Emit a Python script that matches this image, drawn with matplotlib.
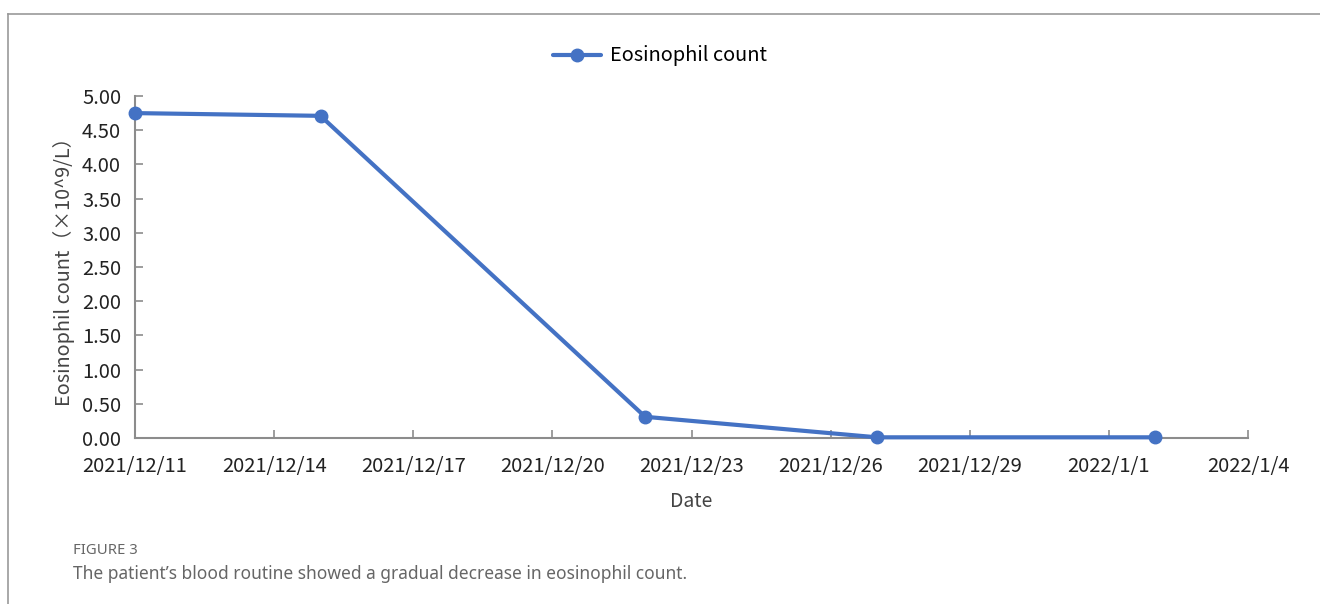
import matplotlib
matplotlib.use("Agg")
import matplotlib.pyplot as plt
from matplotlib.lines import Line2D
import numpy as np
from datetime import datetime

plt.rcParams['font.family'] = ['Noto Sans CJK SC', 'DejaVu Sans']

# Daten
dates = ["2021-12-11", "2021-12-15", "2021-12-22", "2021-12-27", "2022-01-02"]
eos_count = [4.75, 4.71, 0.31, 0.01, 0.01]
tick_dates = ["2021-12-11", "2021-12-14", "2021-12-17", "2021-12-20", "2021-12-23",
              "2021-12-26", "2021-12-29", "2022-01-01", "2022-01-04"]
tick_labels = ["2021/12/11", "2021/12/14", "2021/12/17", "2021/12/20", "2021/12/23",
               "2021/12/26", "2021/12/29", "2022/1/1", "2022/1/4"]
y_ticks = np.arange(0, 5.01, 0.5)

x = [datetime.strptime(d, "%Y-%m-%d") for d in dates]
xt = [datetime.strptime(d, "%Y-%m-%d") for d in tick_dates]

blue = "#4472C4"
grey = "#8c8c8c"

fig = plt.figure(figsize=(13.2, 6.04), dpi=100)
ax = fig.add_axes([135 / 1320, 166 / 604, 1113 / 1320, 342 / 604])

ax.plot(x, eos_count, color=blue, lw=3, marker='o', markersize=9,
        solid_capstyle='round', clip_on=False, zorder=3, label="Eosinophil count")

ax.set_xlim(xt[0], xt[-1])
ax.set_ylim(0, 5)
ax.set_xticks(xt)
ax.set_xticklabels(tick_labels)
ax.set_yticks(y_ticks)
ax.set_yticklabels([f"{v:.2f}" for v in y_ticks])

for s in ["top", "right"]:
    ax.spines[s].set_visible(False)
for s in ["left", "bottom"]:
    ax.spines[s].set_color(grey)
    ax.spines[s].set_linewidth(1.5)
ax.tick_params(direction='in', length=6, width=1.2, color=grey,
               labelsize=14.5, labelcolor="#222222")
ax.tick_params(axis='x', pad=13)
ax.tick_params(axis='y', pad=10)

ax.set_xlabel("Date", fontsize=14, color="#444444", labelpad=10)
ax.set_ylabel("Eosinophil count（×10^9/L）", fontsize=14.3, color="#444444", labelpad=5)

leg = ax.legend(loc='center', bbox_to_anchor=(660 / 1320, 1 - 56 / 604),
                bbox_transform=fig.transFigure, frameon=False, fontsize=14.4,
                handlelength=2.4, handletextpad=0.5)

# Rahmen oben und links
fig.add_artist(Line2D([8 / 1320, 8 / 1320], [0, 1 - 14 / 604], transform=fig.transFigure,
                      color="#999999", lw=1.2))
fig.add_artist(Line2D([8 / 1320, 1], [1 - 14 / 604, 1 - 14 / 604], transform=fig.transFigure,
                      color="#999999", lw=1.2))

fig.text(73 / 1320, 1 - 550 / 604, "FIGURE 3", fontsize=10.7, color="#666666", va='center',
         family=['Noto Sans', 'DejaVu Sans'])
fig.text(73 / 1320, 1 - 574 / 604,
         "The patient\u2019s blood routine showed a gradual decrease in eosinophil count.",
         fontsize=12.5, color="#666666", va='center', family=['Noto Sans', 'DejaVu Sans'])

fig.savefig("out.png", dpi=100)
